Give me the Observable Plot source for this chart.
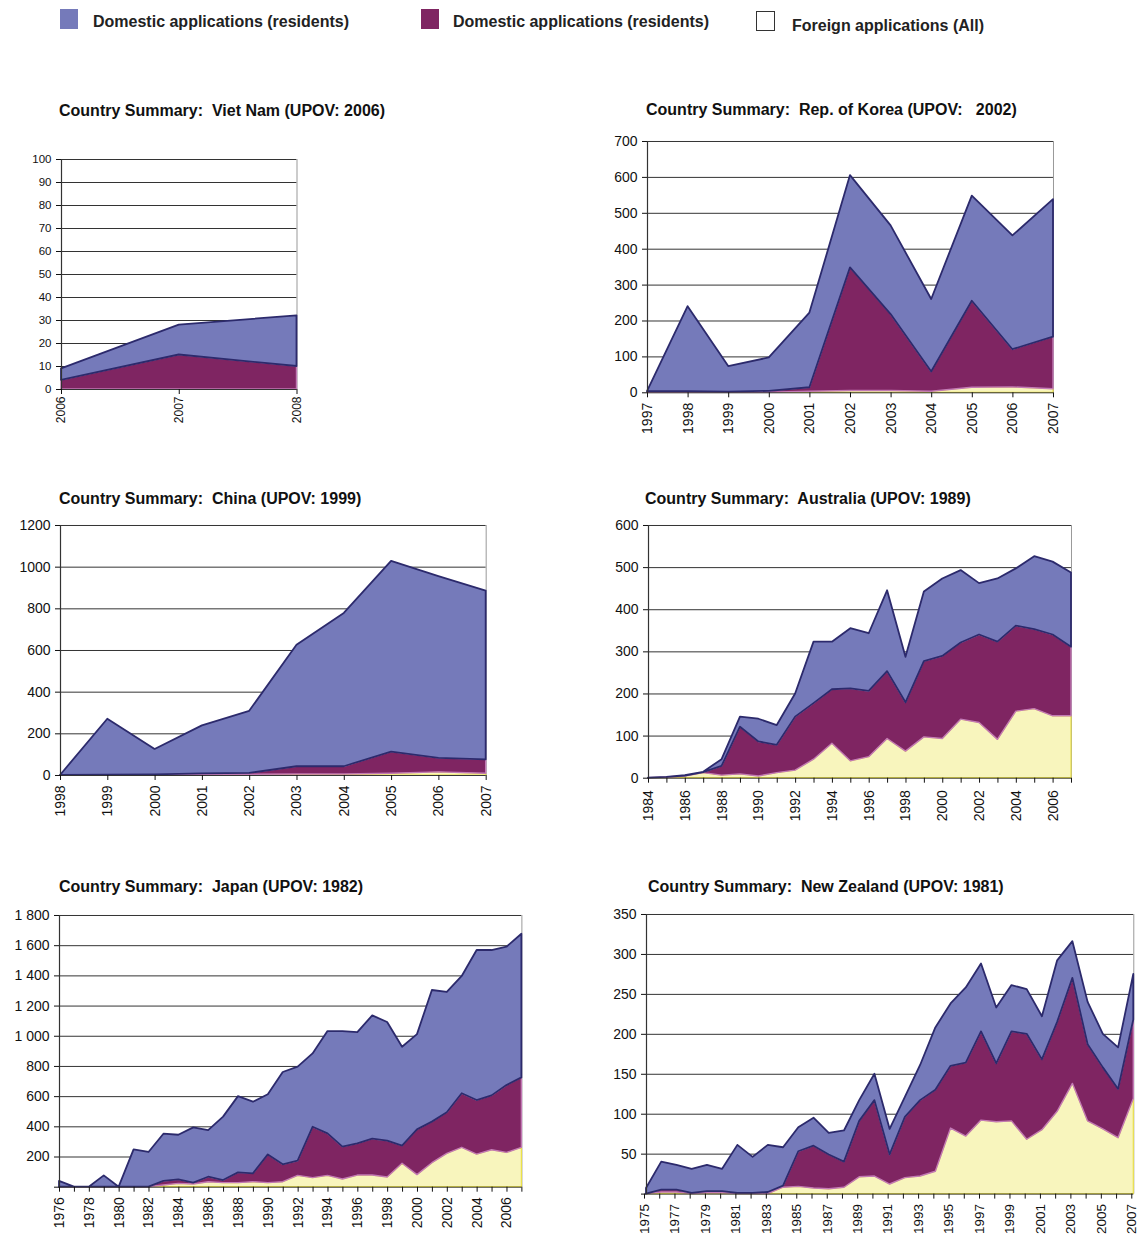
<!DOCTYPE html>
<html><head><meta charset="utf-8">
<script src="https://cdn.jsdelivr.net/npm/d3@7"></script>
<script src="https://cdn.jsdelivr.net/npm/@observablehq/plot@0.6"></script>
<style>
body{margin:0;background:#fff;font-family:"Liberation Sans",Arial,sans-serif;}
#page{position:relative;width:1138px;height:1234px;overflow:hidden;}
.title{position:absolute;font-weight:bold;font-size:16px;white-space:pre;color:#111;line-height:1;}
.leg{position:absolute;font-weight:bold;font-size:16px;color:#222;white-space:pre;line-height:1;}
.sw{position:absolute;box-sizing:border-box;}
.panel{position:absolute;}
</style></head>
<body><div id="page"></div>
<script>
// ---------- legend / series names ----------
const seriesNames = ["Domestic applications (residents)", "Domestic applications (residents)", "Foreign applications (All)"];

// ---------- Viet Nam ----------
const vnTitle = "Country Summary:  Viet Nam (UPOV: 2006)";
const vnYears = [2006, 2007, 2008];
const vnForeign = [0, 0, 0];
const vnResPurple = [4, 15, 10];
const vnResBlue = [5, 13, 22];
const vnYTicks = [0, 10, 20, 30, 40, 50, 60, 70, 80, 90, 100];
const vnYLabels = ["0", "10", "20", "30", "40", "50", "60", "70", "80", "90", "100"];
const vnXLabels = [2006, 2007, 2008];

// ---------- Rep. of Korea ----------
const krTitle = "Country Summary:  Rep. of Korea (UPOV:   2002)";
const krYears = [1997, 1998, 1999, 2000, 2001, 2002, 2003, 2004, 2005, 2006, 2007];
const krForeign = [0, 0, 0, 0, 3, 5, 5, 3, 14, 15, 10];
const krResPurple = [3, 3, 2, 4, 11, 343, 213, 55, 241, 105, 145];
const krResBlue = [0, 237, 71, 93, 208, 257, 247, 202, 293, 317, 383];
const krYTicks = [0, 100, 200, 300, 400, 500, 600, 700];
const krYLabels = ["0", "100", "200", "300", "400", "500", "600", "700"];
const krXLabels = krYears;

// ---------- China ----------
const cnTitle = "Country Summary:  China (UPOV: 1999)";
const cnYears = [1998, 1999, 2000, 2001, 2002, 2003, 2004, 2005, 2006, 2007];
const cnForeign = [0, 0, 0, 2, 3, 5, 5, 8, 15, 8];
const cnResPurple = [0, 2, 3, 6, 7, 37, 37, 104, 67, 67];
const cnResBlue = [0, 268, 122, 230, 298, 583, 736, 916, 873, 810];
const cnYTicks = [0, 200, 400, 600, 800, 1000, 1200];
const cnYLabels = ["0", "200", "400", "600", "800", "1000", "1200"];
const cnXLabels = cnYears;

// ---------- Australia ----------
const auTitle = "Country Summary:  Australia (UPOV: 1989)";
const auYears = [1984, 1985, 1986, 1987, 1988, 1989, 1990, 1991, 1992, 1993, 1994, 1995, 1996, 1997, 1998, 1999, 2000, 2001, 2002, 2003, 2004, 2005, 2006, 2007];
const auForeign = [0, 1, 4, 12, 6, 9, 4, 12, 18, 44, 82, 40, 50, 93, 63, 97, 93, 139, 131, 91, 158, 164, 147, 147];
const auResPurple = [0, 1, 1, 1, 22, 112, 82, 66, 127, 133, 128, 172, 156, 160, 116, 180, 196, 182, 209, 232, 203, 189, 193, 164];
const auResBlue = [0, 0, 1, 1, 16, 24, 54, 47, 55, 146, 113, 143, 137, 192, 108, 165, 184, 172, 122, 150, 136, 173, 173, 176];
const auYTicks = [0, 100, 200, 300, 400, 500, 600];
const auYLabels = ["0", "100", "200", "300", "400", "500", "600"];
const auXLabels = [1984, 1986, 1988, 1990, 1992, 1994, 1996, 1998, 2000, 2002, 2004, 2006];

// ---------- Japan ----------
const jpTitle = "Country Summary:  Japan (UPOV: 1982)";
const jpYears = [1976, 1977, 1978, 1979, 1980, 1981, 1982, 1983, 1984, 1985, 1986, 1987, 1988, 1989, 1990, 1991, 1992, 1993, 1994, 1995, 1996, 1997, 1998, 1999, 2000, 2001, 2002, 2003, 2004, 2005, 2006, 2007];
const jpForeign = [0, 0, 0, 0, 0, 0, 0, 11, 22, 18, 33, 27, 27, 33, 27, 33, 75, 60, 75, 51, 77, 77, 64, 155, 80, 159, 221, 261, 216, 245, 227, 261];
const jpResPurple = [0, 0, 0, 0, 0, 0, 0, 27, 27, 9, 33, 17, 68, 55, 187, 115, 97, 337, 278, 214, 210, 241, 241, 117, 300, 272, 272, 358, 358, 360, 446, 463];
const jpResBlue = [38, 0, 0, 75, 0, 247, 230, 313, 295, 366, 309, 420, 505, 475, 398, 612, 623, 486, 678, 766, 737, 817, 786, 655, 631, 872, 797, 777, 994, 963, 917, 952];
const jpYTicks = [0, 200, 400, 600, 800, 1000, 1200, 1400, 1600, 1800];
const jpYLabels = ["", "200", "400", "600", "800", "1 000", "1 200", "1 400", "1 600", "1 800"];
const jpXLabels = [1976, 1978, 1980, 1982, 1984, 1986, 1988, 1990, 1992, 1994, 1996, 1998, 2000, 2002, 2004, 2006];

// ---------- New Zealand ----------
const nzTitle = "Country Summary:  New Zealand (UPOV: 1981)";
const nzYears = [1975, 1976, 1977, 1978, 1979, 1980, 1981, 1982, 1983, 1984, 1985, 1986, 1987, 1988, 1989, 1990, 1991, 1992, 1993, 1994, 1995, 1996, 1997, 1998, 1999, 2000, 2001, 2002, 2003, 2004, 2005, 2006, 2007];
const nzForeign = [0, 2, 2, 0, 1, 1, 0, 0, 0, 8, 9, 7, 6, 8, 21, 22, 12, 20, 22, 28, 82, 72, 92, 90, 91, 68, 80, 103, 138, 91, 81, 70, 119];
const nzResPurple = [0, 3, 3, 1, 2, 2, 1, 1, 2, 2, 44, 53, 43, 32, 70, 95, 37, 76, 95, 102, 78, 92, 111, 73, 112, 132, 88, 112, 132, 96, 77, 61, 99];
const nzResBlue = [7, 35, 31, 30, 33, 28, 60, 45, 59, 48, 30, 35, 27, 39, 26, 33, 32, 25, 44, 78, 78, 94, 85, 70, 58, 56, 54, 77, 46, 53, 42, 52, 57];
const nzYTicks = [0, 50, 100, 150, 200, 250, 300, 350];
const nzYLabels = ["", "50", "100", "150", "200", "250", "300", "350"];
const nzXLabels = [1975, 1977, 1979, 1981, 1983, 1985, 1987, 1989, 1991, 1993, 1995, 1997, 1999, 2001, 2003, 2005, 2007];

// ---------- styles ----------
const FILL = {foreign: "#f8f5bd", purple: "#7f2562", blue: "#757aba"};
const STROKE = {foreign: "#ece24a", purple: "#c27ab5", blue: "#2c2a6c"};
const SWIDTH = {foreign: 1.2, purple: 1.4, blue: 1.8};
const FONT = "'Liberation Sans', Arial, Helvetica, sans-serif";
const ML = 50, MR = 4, MT = 10, MB = 50;

const page = document.getElementById("page");

function addDiv(cls, text, left, top, extra) {
  const d = document.createElement("div");
  d.className = cls;
  if (text) d.textContent = text;
  d.style.left = left + "px";
  d.style.top = top + "px";
  if (extra) Object.assign(d.style, extra);
  page.appendChild(d);
  return d;
}

// legend
addDiv("sw", "", 60, 9, {width: "18px", height: "20px", background: FILL.blue});
addDiv("leg", seriesNames[0], 93, 14);
addDiv("sw", "", 421, 9, {width: "18px", height: "20px", background: FILL.purple});
addDiv("leg", seriesNames[1], 453, 14);
addDiv("sw", "", 756, 11, {width: "19px", height: "20px", background: "#fff", border: "1px solid #333"});
addDiv("leg", seriesNames[2], 792, 18);

function panel(p) {
  const data = [];
  [["foreign", p.foreign], ["purple", p.purple], ["blue", p.blue]].forEach(([s, vals]) =>
    p.years.forEach((yr, i) => data.push({year: yr, series: s, value: vals[i]})));
  const x0 = p.years[0], x1 = p.years[p.years.length - 1];
  const ymax = p.yTicks[p.yTicks.length - 1];
  const yLab = new Map(p.yTicks.map((t, i) => [t, p.yLabels[i]]));
  const xLab = new Set(p.xLabels);
  const chart = Plot.plot({
    width: p.w + ML + MR, height: p.h + MT + MB,
    marginLeft: ML, marginRight: MR, marginTop: MT, marginBottom: MB,
    x: {type: "linear", domain: [x0, x1], label: null},
    y: {domain: [0, ymax], label: null},
    color: {type: "identity"},
    style: {fontFamily: FONT, fontSize: p.fs + "px", color: "#111", background: "transparent", overflow: "visible"},
    marks: [
      Plot.ruleY(p.yTicks.slice(1), {stroke: "#333", strokeWidth: 1}),
      Plot.ruleX([x1], {stroke: "#999", strokeWidth: 1}),
      Plot.areaY(data, Plot.stackY({
        x: "year", y: "value", z: "series",
        fill: d => FILL[d.series], stroke: d => STROKE[d.series],
        strokeWidth: d => SWIDTH[d.series], strokeLinejoin: "round"
      })),
      Plot.ruleX([x0], {stroke: "#333", strokeWidth: 1.2}),
      Plot.ruleY([0], {stroke: "#333", strokeWidth: 1}),
      Plot.axisY(p.yTicks, {tickSize: 5, tickPadding: 5, tickFormat: d => yLab.get(d), fontSize: p.fs, label: null}),
      Plot.axisX(p.years, {tickSize: 5, tickPadding: p.xpad, tickRotate: -90, fontSize: p.xfs, label: null, dx: p.xdx || 0,
        tickFormat: d => xLab.has(d) ? String(d) : ""})
    ]
  });
  chart.classList.add("panel");
  chart.style.position = "absolute";
  chart.style.left = (p.left - ML) + "px";
  chart.style.top = (p.top - MT) + "px";
  page.appendChild(chart);
  addDiv("title", p.title, p.tx, p.ty);
}

panel({title: vnTitle, tx: 59, ty: 103, years: vnYears, foreign: vnForeign, purple: vnResPurple, blue: vnResBlue,
  yTicks: vnYTicks, yLabels: vnYLabels, xLabels: vnXLabels, left: 61, top: 159.3, w: 235.5, h: 230, fs: 11.5, xfs: 12, xpad: 2});
panel({title: krTitle, tx: 646, ty: 102, years: krYears, foreign: krForeign, purple: krResPurple, blue: krResBlue,
  yTicks: krYTicks, yLabels: krYLabels, xLabels: krXLabels, left: 646.7, top: 141, w: 406, h: 251.3, fs: 14, xfs: 14, xpad: 5});
panel({title: cnTitle, tx: 59, ty: 491, years: cnYears, foreign: cnForeign, purple: cnResPurple, blue: cnResBlue,
  yTicks: cnYTicks, yLabels: cnYLabels, xLabels: cnXLabels, left: 60, top: 525.3, w: 425.7, h: 250, fs: 14, xfs: 14, xpad: 5});
panel({title: auTitle, tx: 645, ty: 491, years: auYears, foreign: auForeign, purple: auResPurple, blue: auResBlue,
  yTicks: auYTicks, yLabels: auYLabels, xLabels: auXLabels, left: 647.7, top: 525, w: 423, h: 252.7, fs: 14, xfs: 14, xpad: 7});
panel({title: jpTitle, tx: 59, ty: 879, years: jpYears, foreign: jpForeign, purple: jpResPurple, blue: jpResBlue,
  yTicks: jpYTicks, yLabels: jpYLabels, xLabels: jpXLabels, left: 59.3, top: 915, w: 462.4, h: 271.7, fs: 14, xfs: 14, xpad: 5});
panel({title: nzTitle, tx: 648, ty: 879, years: nzYears, foreign: nzForeign, purple: nzResPurple, blue: nzResBlue,
  yTicks: nzYTicks, yLabels: nzYLabels, xLabels: nzXLabels, left: 646, top: 913.7, w: 487.3, h: 279.6, fs: 14, xfs: 13.5, xpad: 5, xdx: -2});
</script>
</body></html>
